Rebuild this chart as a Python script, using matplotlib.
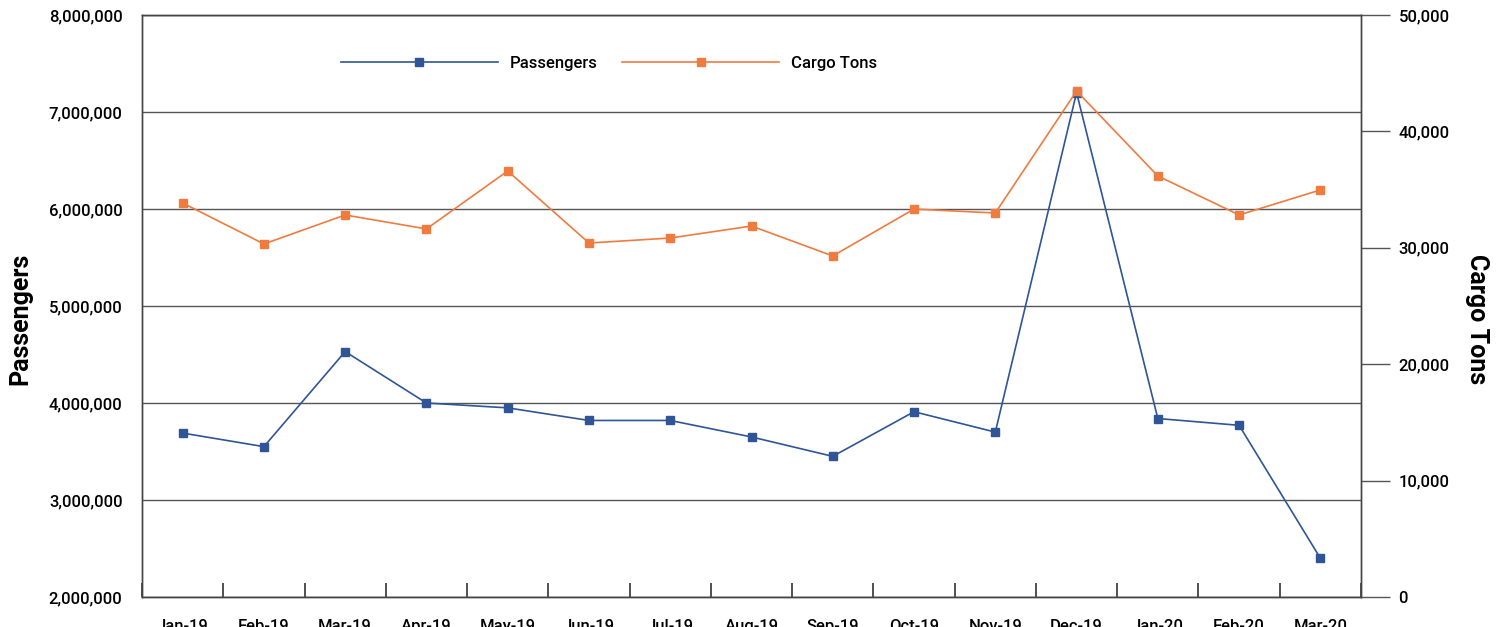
import numpy as np
import matplotlib
matplotlib.use('Agg')
import matplotlib.pyplot as plt
from matplotlib.ticker import FuncFormatter, MultipleLocator, FixedLocator

plt.rcParams['font.family'] = ['Roboto', 'DejaVu Sans']

# 数据
months = ['Jan-19', 'Feb-19', 'Mar-19', 'Apr-19', 'May-19', 'Jun-19', 'Jul-19',
          'Aug-19', 'Sep-19', 'Oct-19', 'Nov-19', 'Dec-19', 'Jan-20', 'Feb-20', 'Mar-20']
passengers = [3690000, 3550000, 4530000, 4000000, 3950000, 3820000, 3820000,
              3650000, 3450000, 3910000, 3700000, 7200000, 3840000, 3770000, 2400000]
cargo_tons = [33850, 30330, 32820, 31620, 36600, 30410, 30840,
              31870, 29300, 33330, 32990, 43470, 36170, 32820, 34970]

blue = '#2F5597'
orange = '#F07B3F'
grid_c = '#555555'

fig = plt.figure(figsize=(15.05, 6.27), dpi=100)
ax = fig.add_axes([142 / 1505, 30 / 627, (1361 - 142) / 1505, 582 / 627])
ax2 = ax.twinx()

x = np.arange(len(months))
l1, = ax.plot(x, passengers, color=blue, lw=1.2, marker='s', ms=6, label='Passengers')
l2, = ax2.plot(x, cargo_tons, color=orange, lw=1.2, marker='s', ms=6, label='Cargo Tons')

ax.set_xlim(-0.5, len(months) - 0.5)
ax.set_ylim(2000000, 8000000)
ax2.set_ylim(0, 50000)

ax.yaxis.set_major_locator(MultipleLocator(1000000))
ax.yaxis.set_major_formatter(FuncFormatter(lambda v, p: f'{int(v):,}'))
ax2.yaxis.set_major_locator(MultipleLocator(10000))
ax2.yaxis.set_major_formatter(FuncFormatter(lambda v, p: f'{int(v):,}'))

ax.grid(axis='y', color=grid_c, lw=1.0)
ax.set_axisbelow(True)

# x 轴: 类别标签在中间, 刻度线在类别之间
ax.xaxis.set_major_locator(FixedLocator(x))
ax.set_xticklabels(months)
ax.xaxis.set_minor_locator(FixedLocator(np.arange(-0.5, len(months), 1.0)))
ax.tick_params(axis='x', which='major', length=0, pad=16, labelsize=12)
ax.tick_params(axis='x', which='minor', length=10, width=1.2, direction='in', color='#333333')
ax.tick_params(axis='y', length=0, pad=14, labelsize=12)
ax2.tick_params(axis='y', length=21, width=1.0, color=grid_c, pad=6, labelsize=12)

for lab in ax.get_xticklabels() + ax.get_yticklabels() + ax2.get_yticklabels():
    lab.set_fontweight('medium')

for a in (ax, ax2):
    for s in a.spines.values():
        s.set_color('#444444')
        s.set_linewidth(1.0)

ax.set_ylabel('Passengers', fontsize=18, fontweight='bold', va='center')
ax.yaxis.set_label_coords(-0.1, 0.478)
ax2.set_ylabel('Cargo Tons', fontsize=18, fontweight='bold', rotation=270, va='center')
ax2.yaxis.set_label_coords(1.095, 0.478)

ax2.legend([l1, l2], ['Passengers', 'Cargo Tons'], loc='upper left',
           bbox_to_anchor=(0.151, 0.955), ncol=2, frameon=False,
           handlelength=9.4, columnspacing=1.45, handletextpad=0.75,
           prop={'weight': 'medium', 'size': 12})

fig.savefig('out.png', dpi=100)
